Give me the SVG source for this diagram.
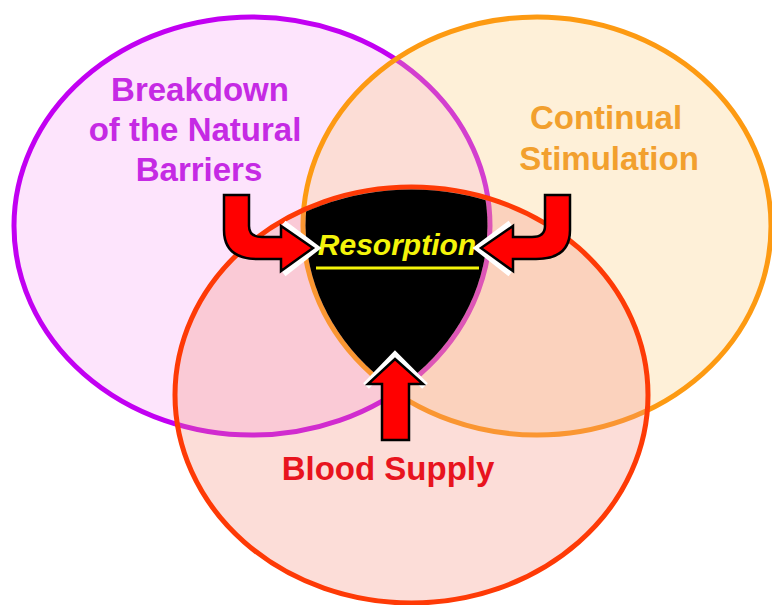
<svg xmlns="http://www.w3.org/2000/svg" width="772" height="605" viewBox="0 0 772 605">
<style>
.lbl{font-family:"Liberation Sans",Arial,sans-serif;font-weight:bold;font-size:33px;text-anchor:middle}
.ring{stroke-width:5}
.arrow{fill:#ff0000;stroke:#000;stroke-width:2.5;stroke-linejoin:miter}
.hl{fill:none;stroke:#fff;stroke-width:8;stroke-linejoin:miter}
</style>
<defs>
<clipPath id="cpO"><ellipse cx="537" cy="226" rx="231.5" ry="206.5"/></clipPath>
<clipPath id="cpR"><ellipse cx="411.5" cy="395" rx="234" ry="205.5"/></clipPath>
</defs>
<rect width="772" height="605" fill="#fff"/>
<g id="breakdown">
<ellipse class="ring" cx="252" cy="226" rx="238" ry="209" fill="#fde4fc" stroke="#c200f2"/>
<text class="lbl" fill="#c52ae4" x="200" y="101">Breakdown</text>
<text class="lbl" fill="#c52ae4" x="195" y="141">of the Natural</text>
<text class="lbl" fill="#c52ae4" x="199" y="181">Barriers</text>
</g>
<g id="stimulation">
<ellipse class="ring" cx="537" cy="226" rx="234" ry="209" fill="#fccd7d" fill-opacity="0.3" stroke="#fd9a12"/>
<text class="lbl" fill="#f2a02e" x="606" y="129">Continual</text>
<text class="lbl" fill="#f2a02e" x="609" y="170">Stimulation</text>
</g>
<g id="blood">
<ellipse class="ring" cx="411.5" cy="395" rx="236.5" ry="208" fill="#f58e7d" fill-opacity="0.3" stroke="#fe3a06"/>
<text class="lbl" fill="#e8141e" x="388" y="480">Blood Supply</text>
</g>
<g id="resorption">
<g clip-path="url(#cpO)"><g clip-path="url(#cpR)"><ellipse cx="252" cy="226" rx="235.5" ry="206.5" fill="#000"/></g></g>
<text x="397" y="255" font-family="'Liberation Sans',Arial,sans-serif" font-weight="bold" font-style="italic" font-size="30" fill="#f4f40a" text-anchor="middle">Resorption</text>
<line x1="316" y1="268" x2="479" y2="268" stroke="#f4f40a" stroke-width="3"/>
</g>
<g id="connectors">
<g id="arrow-left">
<polyline class="hl" points="283,224 315,248 283,273"/>
<path class="arrow" d="M224 195 L249 195 L249 226 Q249 237 262 237 L281 237 L281 226 L313 248 L281 271 L281 259 L258 259 Q224 259 224 230 Z"/>
</g>
<g id="arrow-right" transform="translate(794,0) scale(-1,1)">
<polyline class="hl" points="283,224 315,248 283,273"/>
<path class="arrow" d="M224 195 L249 195 L249 226 Q249 237 262 237 L281 237 L281 226 L313 248 L281 271 L281 259 L258 259 Q224 259 224 230 Z"/>
</g>
<g id="arrow-up">
<polyline class="hl" points="366,386 395,356 425,386"/>
<path class="arrow" d="M382 440 L382 384 L368 384 L395 359 L423 384 L409 384 L409 440 Z"/>
</g>
</g>
</svg>
